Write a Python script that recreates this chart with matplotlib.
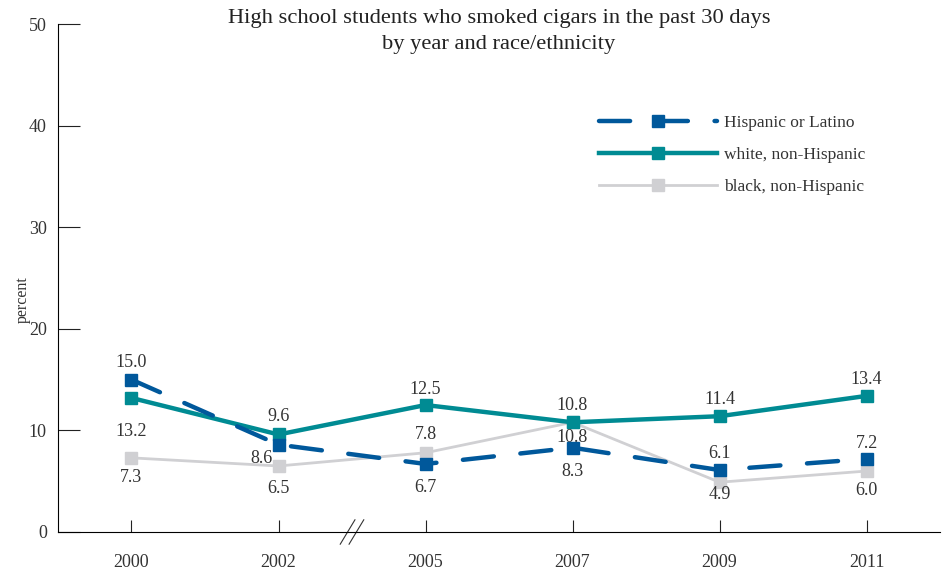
import matplotlib.pyplot as plt
import numpy as np

plt.rcParams['font.family'] = ['Liberation Serif', 'DejaVu Serif']

years = ["2000", "2002", "2005", "2007", "2009", "2011"]
hispanic = [15.0, 8.6, 6.7, 8.3, 6.1, 7.2]
white = [13.2, 9.6, 12.5, 10.8, 11.4, 13.4]
black = [7.3, 6.5, 7.8, 10.8, 4.9, 6.0]

# label offsets (points) relative to each marker
hisp_off = [(0, 12), (-12, -10), (0, -17), (0, -17), (0, 12), (0, 11)]
white_off = [(0, -24), (0, 13), (0, 11), (0, 12), (0, 12), (0, 12)]
black_off = [(0, -14), (0, -16), (0, 13), (0, -11), (0, -9), (0, -14)]

c_hisp = "#00589b"
c_white = "#008b93"
c_black = "#d0d0d3"
c_text = "#333333"

fig = plt.figure(figsize=(9.46, 5.76), dpi=100)
ax = fig.add_axes([0.0613, 0.0764, 0.9324, 0.8816])

x = np.arange(len(years))
ax.plot(x, black, "-s", color=c_black, lw=2, ms=9, label="black, non-Hispanic", zorder=2)
ax.plot(x, white, "-s", color=c_white, lw=3.2, ms=9, label="white, non-Hispanic", zorder=3)
ax.plot(x, hispanic, "s", color=c_hisp, ms=9, ls=(0, (7, 6)), lw=3.2,
        label="Hispanic or Latino", zorder=4, dash_capstyle="round")

def labels(vals, offs):
    for i, (v, o) in enumerate(zip(vals, offs)):
        ax.annotate(f"{v:.1f}", (i, v), xytext=o, textcoords="offset points",
                    ha="center", va="center", fontsize=13, color=c_text)

labels(hispanic, hisp_off)
labels(white, white_off)
labels(black, black_off)

ax.set_xlim(-0.5, 5.5)
ax.set_ylim(0, 50)
ax.set_xticks(x)
ax.set_xticklabels(years)
ax.set_yticks([0, 10, 20, 30, 40, 50])
ax.tick_params(axis="y", direction="in", length=16, width=0.8, labelsize=13, pad=8,
               colors="#222222", labelcolor=c_text)
ax.tick_params(axis="x", direction="in", length=9, width=0.8, labelsize=13, pad=16,
               colors="#222222", labelcolor=c_text)
for s in ["top", "right"]:
    ax.spines[s].set_visible(False)
ax.spines["left"].set_linewidth(0.8)
ax.spines["bottom"].set_linewidth(0.8)
ax.set_ylabel("percent", fontsize=11.5, color=c_text)
ax.yaxis.set_label_coords(-0.031, 0.457)

# axis break
for dx in (-0.03, 0.03):
    ax.plot([1.45 + dx, 1.55 + dx], [-1.2, 1.2], color="#333333", lw=0.8, clip_on=False)

handles, labs = ax.get_legend_handles_labels()
order = [2, 1, 0]
ax.legend([handles[i] for i in order], [labs[i] for i in order], loc="upper left",
          bbox_to_anchor=(0.5955, 0.852), frameon=False, fontsize=12.5, handlelength=6.8,
          labelspacing=0.9, handletextpad=0.4, labelcolor=c_text)

title_lines = ["High school students who smoked cigars in the past 30 days",
               "by year and race/ethnicity"]
for line, ypix in zip(title_lines, [18, 44]):
    fig.text(0.5275, 1 - ypix / 576, line, fontsize=16.2, ha="center", va="center",
             color="#222222")

plt.savefig("out.png")
